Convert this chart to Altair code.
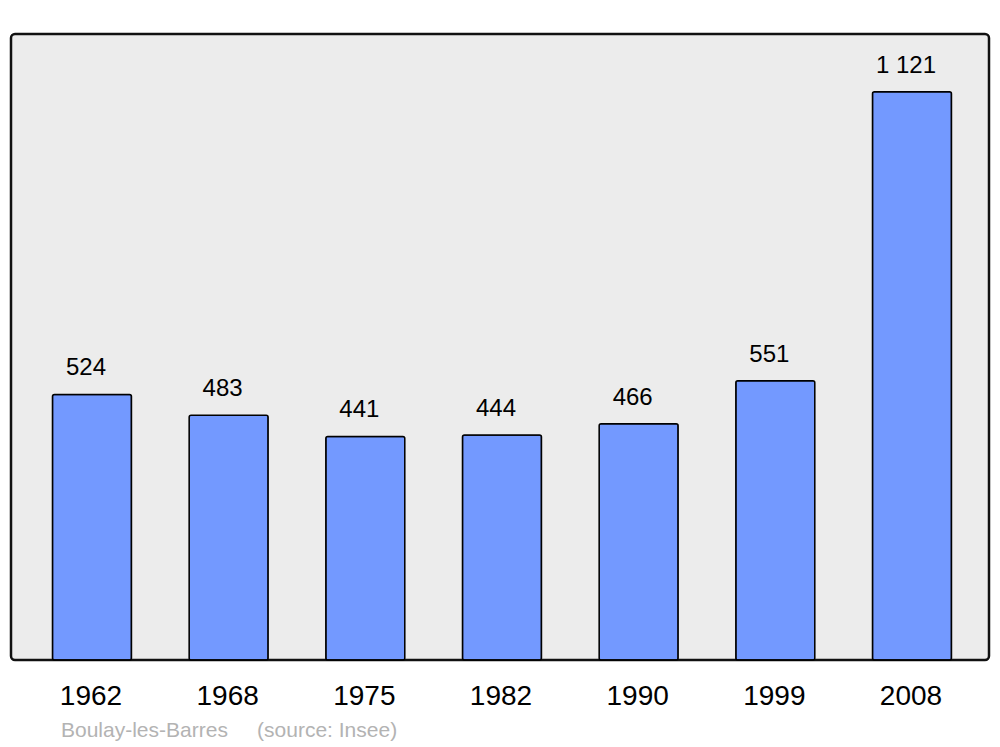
import altair as alt
import pandas as pd

years = ["1962", "1968", "1975", "1982", "1990", "1999", "2008"]
population = [524, 483, 441, 444, 466, 551, 1121]
labels = ["524", "483", "441", "444", "466", "551", "1 121"]
caption = "Boulay-les-Barres\u00a0\u00a0\u00a0\u00a0 (source: Insee)"

df = pd.DataFrame({"year": years, "pop": population, "label": labels})

x = alt.X("year:N", sort=years, title=None,
          scale=alt.Scale(paddingInner=0.422, paddingOuter=0.289, align=0.525),
          axis=alt.Axis(labelAngle=0, labelFontSize=28, labelFont="Liberation Sans",
                        labelColor="#000", domain=False, ticks=False, labelPadding=22,
                        grid=False, labelOffset=-1))
y = alt.Y("pop:Q", scale=alt.Scale(domain=[0, 1235], nice=False, zero=True),
          axis=None)

bars = alt.Chart(df).mark_bar(color="#7399ff", stroke="#000", strokeWidth=1.5,
                              cornerRadius=2).encode(x=x, y=y)
text = alt.Chart(df).mark_text(font="Liberation Sans", fontSize=24, color="#000",
                               baseline="middle", dy=-26, dx=-6).encode(x=x, y=y, text="label:N")

chart = (bars + text).properties(
    width=978, height=626,
    autosize=alt.AutoSizeParams(type="none"),
    padding={"left": 3, "top": 26, "right": 3, "bottom": 86},
    title=alt.TitleParams(caption, orient="bottom", anchor="start", frame="group",
                          font="Liberation Sans", fontSize=21, fontWeight="normal",
                          color="#b3b3b3", offset=10, dx=50),
).configure_view(fill="#ececec", stroke="#111", strokeWidth=2.5, cornerRadius=4)

chart.save("out.html", embed_options={"renderer": "svg", "actions": False})
